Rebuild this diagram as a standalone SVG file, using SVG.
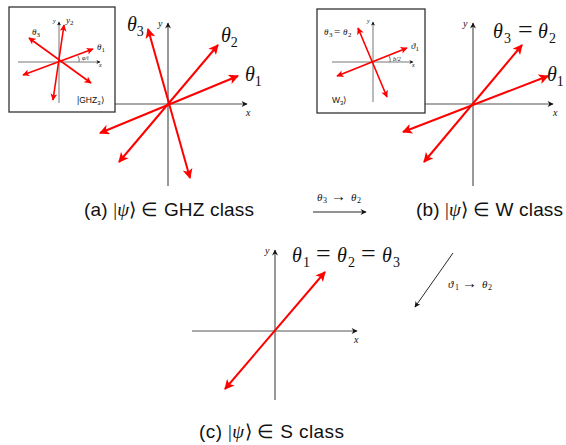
<svg xmlns="http://www.w3.org/2000/svg" width="566" height="445" viewBox="0 0 566 445">
<style>
.ax{stroke:#555;stroke-width:1.2;fill:none}
.axi{stroke:#666;stroke-width:0.9;fill:none}
.r{stroke:#ff0000;stroke-width:2;fill:none}
.ri{stroke:#ff0000;stroke-width:1.6;fill:none}
.box{fill:#fff;stroke:#333;stroke-width:1.3}
.m{font-family:"Liberation Serif",serif;font-style:italic;fill:#111}
.n{font-style:normal}
.s{font-family:"Liberation Sans",sans-serif;fill:#111}
.cap{font-family:"Liberation Sans",sans-serif;font-size:19px;fill:#111}
.con{stroke:#111;stroke-width:0.9;fill:none}
</style>
<defs>
<marker id="rh" viewBox="0 0 10 10" refX="9" refY="5" markerWidth="11" markerHeight="10" markerUnits="userSpaceOnUse" orient="auto-start-reverse">
<path d="M0,0 L10,5 L0,10 L2.5,5 Z" fill="#ff0000"/>
</marker>
<marker id="rhs" viewBox="0 0 10 10" refX="9" refY="5" markerWidth="8" markerHeight="7" markerUnits="userSpaceOnUse" orient="auto-start-reverse">
<path d="M0,0 L10,5 L0,10 L2.5,5 Z" fill="#ff0000"/>
</marker>
<marker id="ah" viewBox="0 0 10 10" refX="9" refY="5" markerWidth="7" markerHeight="6" markerUnits="userSpaceOnUse" orient="auto">
<path d="M0,0 L10,5 L0,10 L3,5 Z" fill="#111"/>
</marker>
<marker id="ahs" viewBox="0 0 10 10" refX="9" refY="5" markerWidth="5" markerHeight="4" markerUnits="userSpaceOnUse" orient="auto">
<path d="M0,0 L10,5 L0,10 L3,5 Z" fill="#111"/>
</marker>
</defs>

<g id="panel-a">
<line class="ax" x1="115" y1="104" x2="247" y2="104" marker-end="url(#ah)"/>
<line class="ax" x1="168" y1="186" x2="168" y2="23" marker-end="url(#ah)"/>
<text class="m" x="246" y="116" font-size="10">x</text>
<text class="m" x="158" y="27" font-size="10">y</text>
<line class="r" x1="100" y1="133" x2="238" y2="76" marker-start="url(#rh)" marker-end="url(#rh)"/>
<line class="r" x1="119" y1="162" x2="218" y2="45" marker-start="url(#rh)" marker-end="url(#rh)"/>
<line class="r" x1="190" y1="178" x2="148" y2="29" marker-start="url(#rh)" marker-end="url(#rh)"/>
<text class="m" x="127" y="31" font-size="20">θ<tspan class="n" font-size="14" dy="5">3</tspan></text>
<text class="m" x="221" y="42" font-size="20">θ<tspan class="n" font-size="14" dy="5">2</tspan></text>
<text class="m" x="245" y="81" font-size="20">θ<tspan class="n" font-size="14" dy="5">1</tspan></text>
<g id="inset-a">
<rect class="box" x="9" y="7" width="106" height="105"/>
<line class="axi" x1="18" y1="62" x2="100" y2="62" marker-end="url(#ahs)"/>
<line class="axi" x1="59" y1="103" x2="59" y2="22" marker-end="url(#ahs)"/>
<line class="ri" x1="23" y1="75" x2="93" y2="49" marker-start="url(#rhs)" marker-end="url(#rhs)"/>
<line class="ri" x1="53" y1="100" x2="64" y2="25" marker-start="url(#rhs)" marker-end="url(#rhs)"/>
<line class="ri" x1="91" y1="83" x2="29" y2="38" marker-start="url(#rhs)" marker-end="url(#rhs)"/>
<path d="M78,56 Q80,59 79,62" class="axi"/>
<text class="m" x="99" y="67" font-size="6">x</text>
<text class="m" x="53" y="23" font-size="6">y</text>
<text class="m" x="66" y="23" font-size="9">y<tspan class="n" font-size="7" dy="2">2</tspan></text>
<text class="m" x="32" y="35" font-size="9">θ<tspan class="n" font-size="7" dy="2">3</tspan></text>
<text class="m" x="97" y="50" font-size="9">θ<tspan class="n" font-size="7" dy="2">1</tspan></text>
<text class="m" x="82" y="60" font-size="6">φ/t</text>
<text class="s" x="77" y="103" font-size="8.5">|GHZ<tspan font-size="6" dy="1.5">3</tspan><tspan dy="-1.5">⟩</tspan></text>
</g>
</g>

<g id="panel-b">
<line class="ax" x1="425" y1="104" x2="553" y2="104" marker-end="url(#ah)"/>
<line class="ax" x1="473" y1="186" x2="473" y2="23" marker-end="url(#ah)"/>
<text class="m" x="553" y="116" font-size="10">x</text>
<text class="m" x="463" y="27" font-size="10">y</text>
<line class="r" x1="403" y1="132" x2="548" y2="76" marker-start="url(#rh)" marker-end="url(#rh)"/>
<line class="r" x1="424" y1="162" x2="522" y2="45" marker-start="url(#rh)" marker-end="url(#rh)"/>
<text class="m" y="38" font-size="20"><tspan x="493">θ</tspan><tspan class="n" font-size="14" x="504" dy="5">3</tspan><tspan class="n" font-size="26" x="518" dy="-5">=</tspan><tspan x="538">θ</tspan><tspan class="n" font-size="14" x="549" dy="5">2</tspan></text>
<text class="m" x="547" y="81" font-size="20">θ<tspan class="n" font-size="14" dy="5">1</tspan></text>
<g id="inset-b">
<rect class="box" x="317" y="9" width="108" height="104"/>
<line class="axi" x1="332" y1="62" x2="413" y2="62" marker-end="url(#ahs)"/>
<line class="axi" x1="373" y1="102" x2="373" y2="22" marker-end="url(#ahs)"/>
<line class="ri" x1="337" y1="76" x2="407" y2="48" marker-start="url(#rhs)" marker-end="url(#rhs)"/>
<line class="ri" x1="387" y1="97" x2="358" y2="28" marker-start="url(#rhs)" marker-end="url(#rhs)"/>
<path d="M389,56 Q391,59 390,62" class="axi"/>
<text class="m" x="412" y="67" font-size="6">x</text>
<text class="m" x="367" y="23" font-size="6">y</text>
<text class="m" y="35" font-size="9"><tspan x="324">θ</tspan><tspan class="n" font-size="7" x="329" dy="2">3</tspan><tspan class="n" font-size="11" x="334" dy="-2">=</tspan><tspan x="343">θ</tspan><tspan class="n" font-size="7" x="348" dy="2">2</tspan></text>
<text class="m" x="411" y="49" font-size="9">ϑ<tspan class="n" font-size="7" dy="2">1</tspan></text>
<text class="m" x="393" y="61" font-size="6">b/2</text>
<text class="s" x="332" y="103" font-size="8.5">W<tspan font-size="6" dy="1.5">3</tspan><tspan dy="-1.5">⟩</tspan></text>
</g>
</g>

<g id="panel-c">
<line class="ax" x1="192" y1="331" x2="357" y2="331" marker-end="url(#ah)"/>
<line class="ax" x1="275" y1="400" x2="275" y2="250" marker-end="url(#ah)"/>
<text class="m" x="354" y="343" font-size="10">x</text>
<text class="m" x="265" y="254" font-size="10">y</text>
<line class="r" x1="225" y1="389" x2="325" y2="272" marker-start="url(#rh)" marker-end="url(#rh)"/>
<text class="m" y="262" font-size="20"><tspan x="292">θ</tspan><tspan class="n" font-size="14" x="303" dy="5">1</tspan><tspan class="n" font-size="26" x="316" dy="-5">=</tspan><tspan x="337">θ</tspan><tspan class="n" font-size="14" x="348" dy="5">2</tspan><tspan class="n" font-size="26" x="361" dy="-5">=</tspan><tspan x="382">θ</tspan><tspan class="n" font-size="14" x="393" dy="5">3</tspan></text>
</g>

<g id="captions">
<text class="cap" x="84" y="216" textLength="170">(a) <tspan font-family="Liberation Serif,serif">|<tspan font-style="italic">ψ</tspan>⟩ ∈</tspan> GHZ class</text>
<text class="cap" x="416" y="216" textLength="147">(b) <tspan font-family="Liberation Serif,serif">|<tspan font-style="italic">ψ</tspan>⟩ ∈</tspan> W class</text>
<text class="cap" x="199" y="438" textLength="145">(c) <tspan font-family="Liberation Serif,serif">|<tspan font-style="italic">ψ</tspan>⟩ ∈</tspan> S class</text>
</g>

<g id="connectors">
<line class="con" x1="313" y1="212" x2="366" y2="212" marker-end="url(#ah)"/>
<text class="m" y="201" font-size="11"><tspan x="317">θ</tspan><tspan class="n" font-size="8" x="323" dy="2">3</tspan><tspan class="n" font-size="15" x="331" dy="-2">→</tspan><tspan x="351">θ</tspan><tspan class="n" font-size="8" x="357" dy="2">2</tspan></text>
<line class="con" x1="453" y1="253" x2="415" y2="307" marker-end="url(#ah)"/>
<text class="m" y="288" font-size="11"><tspan x="448">ϑ</tspan><tspan class="n" font-size="8" x="455" dy="2">1</tspan><tspan class="n" font-size="15" x="462" dy="-2">→</tspan><tspan x="482">θ</tspan><tspan class="n" font-size="8" x="488" dy="2">2</tspan></text>
</g>
</svg>
